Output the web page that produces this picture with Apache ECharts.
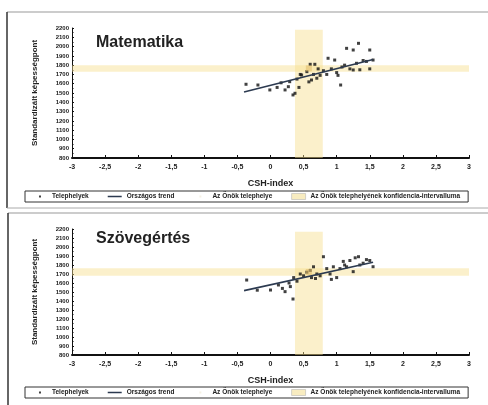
<!DOCTYPE html>
<html><head><meta charset="utf-8">
<script src="https://cdn.jsdelivr.net/npm/echarts@6/dist/echarts.min.js"></script>
<style>html,body{margin:0;padding:0;background:#fff}#c{width:488px;height:405px}</style>
</head><body><div id="c"></div>
<script>
const xTicks = [-3,-2.5,-2,-1.5,-1,-0.5,0,0.5,1,1.5,2,2.5,3];
const yTicks = [800,900,1000,1100,1200,1300,1400,1500,1600,1700,1800,1900,2000,2100,2200];
const titles = ['Matematika','Szövegértés'];
const legendNames = ['Telephelyek','Országos trend','Az Önök telephelye','Az Önök telephelyének konfidencia-intervalluma'];

const mathX = [-0.37,-0.19,-0.01,0.10,0.16,0.22,0.27,0.29,0.34,0.37,0.40,0.45,0.47,0.55,0.60,0.62,0.65,0.67,0.70,0.72,0.75,0.80,0.85,0.87,0.92,0.97,1.00,1.02,1.06,1.08,1.12,1.15,1.20,1.25,1.25,1.30,1.33,1.35,1.40,1.45,1.50,1.50,1.55,0.58,0.43];
const mathY = [1594,1586,1533,1560,1610,1533,1568,1622,1479,1497,1650,1700,1694,1730,1809,1640,1700,1809,1659,1760,1690,1740,1700,1874,1760,1855,1720,1690,1586,1780,1800,1981,1760,1963,1748,1820,2035,1750,1850,1840,1963,1760,1855,1620,1560];
const readX = [-0.36,-0.20,0.00,0.12,0.18,0.22,0.28,0.34,0.35,0.40,0.45,0.50,0.55,0.60,0.62,0.68,0.70,0.75,0.80,0.85,0.90,0.95,1.00,1.05,1.10,1.12,1.15,1.20,1.25,1.28,1.33,1.35,1.40,1.45,1.50,1.55,0.92,0.30,0.65];
const readY = [1633,1520,1522,1578,1540,1504,1600,1422,1660,1620,1700,1680,1720,1740,1660,1650,1700,1680,1892,1760,1700,1780,1660,1760,1840,1800,1780,1850,1726,1880,1892,1800,1820,1860,1850,1781,1640,1560,1780];

const trendX = [[-0.40,1.55],[-0.40,1.55]];
const trendY = [[1510,1860],[1515,1830]];
const siteX = [0.58,0.58];
const siteY = [1765,1722];
const ciX = [[0.37,0.79],[0.37,0.79]];
const ciY = [[1730,1800],[1680,1765]];
const bandTop = [2180,2170];

const pts = [mathX.map((x,i)=>[x,mathY[i]]), readX.map((x,i)=>[x,readY[i]])];

const grids = [
  {left:72,right:19,top:28,height:130},
  {left:72,right:19,top:229,height:126}
];
const fmt = v => (Math.round(v*10)/10).toString().replace('.',',');
const xAxes = grids.map((g,i)=>({
  type:'value',gridIndex:i,min:-3,max:3,interval:0.5,
  name:'CSH-index',nameLocation:'middle',nameGap:21,
  nameTextStyle:{fontFamily:'Liberation Sans',fontWeight:'bold',fontSize:9,color:'#222'},
  axisLine:{onZero:false,lineStyle:{color:'#111',width:2}},
  axisTick:{inside:true,length:3,lineStyle:{color:'#111'}},
  axisLabel:{fontFamily:'Liberation Sans',fontWeight:'bold',fontSize:7,color:'#222',margin:6,formatter:fmt},
  splitLine:{show:false}
}));
const yAxes = grids.map((g,i)=>({
  type:'value',gridIndex:i,min:800,max:2200,interval:100,
  name:'Standardizált képességpont',nameLocation:'middle',nameGap:33,
  nameTextStyle:{fontFamily:'Liberation Sans',fontWeight:'bold',fontSize:8,color:'#222'},
  axisLine:{show:true,onZero:false,lineStyle:{color:'#111',width:1}},
  axisTick:{show:true,inside:true,length:2,lineStyle:{color:'#111'}},
  minorTick:{show:true,splitNumber:2,length:1.5,lineStyle:{color:'#111'}},
  axisLabel:{fontFamily:'Liberation Sans',fontWeight:'bold',fontSize:6,color:'#222',margin:3,formatter:v=>String(v)},
  splitLine:{show:false}
}));
const series = [];
[0,1].forEach(i=>{
  series.push({
    name:legendNames[3],type:'line',xAxisIndex:i,yAxisIndex:i,data:[],symbol:'none',
    lineStyle:{width:0},itemStyle:{color:'#f6e6ad'},silent:true,
    markArea:{silent:true,itemStyle:{color:'rgba(246,222,140,0.45)'},data:[
      [{xAxis:ciX[i][0],yAxis:bandTop[i]},{xAxis:ciX[i][1],yAxis:800}],
      [{xAxis:-3,yAxis:ciY[i][0]},{xAxis:3,yAxis:ciY[i][1]}]
    ]}
  });
  series.push({
    name:legendNames[0],type:'scatter',xAxisIndex:i,yAxisIndex:i,data:pts[i],
    symbol:'rect',symbolSize:3,itemStyle:{color:'#111'},z:3
  });
  series.push({
    name:legendNames[1],type:'line',xAxisIndex:i,yAxisIndex:i,
    data:trendX[i].map((x,k)=>[x,trendY[i][k]]),symbol:'none',
    lineStyle:{color:'#2c3a50',width:1.6},itemStyle:{color:'#2c3a50'},z:4
  });
  series.push({
    name:legendNames[2],type:'scatter',xAxisIndex:i,yAxisIndex:i,
    data:[[siteX[i],siteY[i]]],symbol:'rect',symbolSize:6,
    itemStyle:{color:'rgba(225,190,110,0.75)'},z:5
  });
});
const dotIcon = 'path://M0,0h0.01v0.01h-0.01zM14,6h0.01v0.01h-0.01zM6,2h2v2h-2z';
const lineIcon = 'path://M0,0h0.01v0.01h-0.01zM14,6h0.01v0.01h-0.01zM0,2.3h14v1.4h-14z';
const legendBase = {
  left:25,width:445,itemGap:19,itemWidth:14,itemHeight:6,
  padding:[2,8,2,8],borderColor:'#333',borderWidth:1,
  textStyle:{fontFamily:'Liberation Sans',fontWeight:'bold',fontSize:6.5,color:'#222'},
  selectedMode:false,
  data:[
    {name:legendNames[0],icon:dotIcon,itemStyle:{color:'#111'}},
    {name:legendNames[1],icon:lineIcon,itemStyle:{color:'#2c3a50'},lineStyle:{width:0}},
    {name:legendNames[2],icon:dotIcon,itemStyle:{color:'rgba(225,210,170,0.4)'}},
    {name:legendNames[3],icon:'rect',itemStyle:{color:'#f8ecc0',borderColor:'#aaa',borderWidth:0.5}}
  ]
};
const option = {
  animation:false,backgroundColor:'#fff',
  grid:grids,xAxis:xAxes,yAxis:yAxes,series:series,
  legend:[Object.assign({top:191},legendBase),Object.assign({top:387},legendBase)],
  title:[
    {text:titles[0],left:91,top:30,textStyle:{fontFamily:'Liberation Sans',fontWeight:'bold',fontSize:16,color:'#222'}},
    {text:titles[1],left:91,top:226,textStyle:{fontFamily:'Liberation Sans',fontWeight:'bold',fontSize:16,color:'#222'}}
  ],
  graphic:[
    {type:'line',shape:{x1:7,y1:12,x2:488,y2:12},style:{stroke:'#999',lineWidth:1}},
    {type:'line',shape:{x1:7,y1:12,x2:7,y2:208},style:{stroke:'#333',lineWidth:1.5}},
    {type:'line',shape:{x1:7,y1:208,x2:488,y2:208},style:{stroke:'#aaa',lineWidth:1}},
    {type:'line',shape:{x1:8,y1:213,x2:488,y2:213},style:{stroke:'#999',lineWidth:1}},
    {type:'line',shape:{x1:8,y1:213,x2:8,y2:405},style:{stroke:'#333',lineWidth:1.5}}
  ]
};
echarts.init(document.getElementById('c'),null,{renderer:'canvas'}).setOption(option);
</script>
</body></html>
